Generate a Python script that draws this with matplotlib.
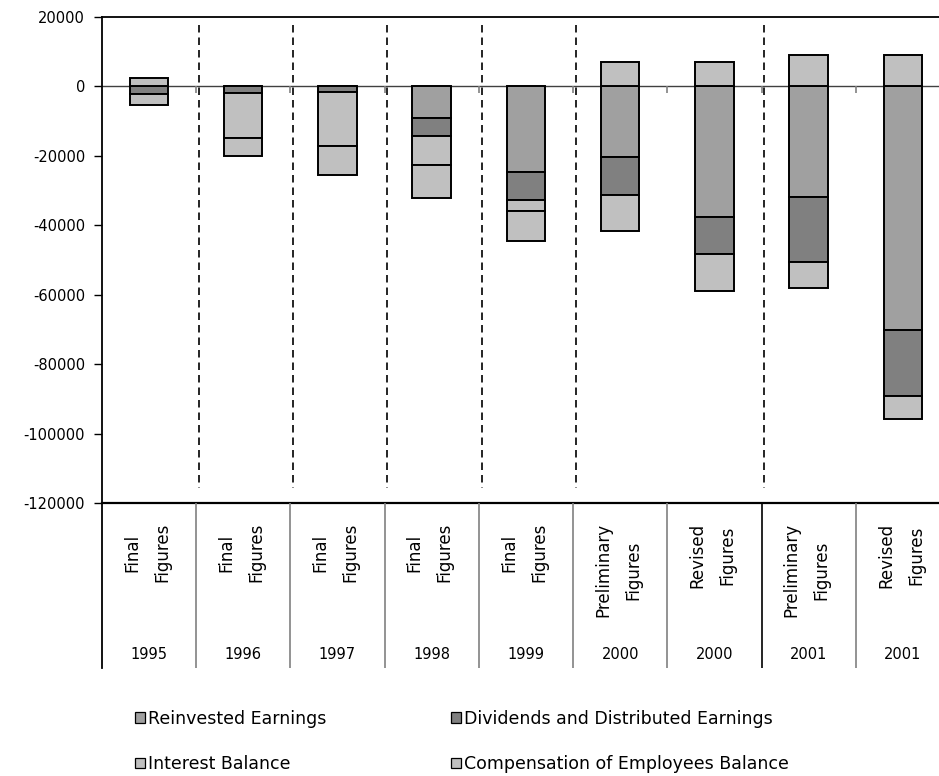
import matplotlib
matplotlib.use("Agg")
import matplotlib.pyplot as plt
import numpy as np

plt.rcParams['font.family'] = ['DejaVu Sans']

# ---- data ----
labels_top = ["Final\nFigures", "Final\nFigures", "Final\nFigures", "Final\nFigures",
              "Final\nFigures", "Preliminary\nFigures", "Revised\nFigures",
              "Preliminary\nFigures", "Revised\nFigures"]
years = ["1995", "1996", "1997", "1998", "1999", "2000", "2000", "2001", "2001"]

series_names = ["Reinvested Earnings", "Dividends and Distributed Earnings",
                "Interest Balance", "Compensation of Employees Balance"]
reinvested = [0, 0, 0, -9100, -24600, -20400, -37500, -31900, -70200]
dividends = [-2100, -1900, -1600, -5200, -8100, -11000, -10900, -18800, -18800]
interest = [-3300, -13000, -15700, -8400, -3300, -10200, -10600, -7400, -6700]
compensation = [2400, -5200, -8300, -9400, -8500, 7000, 7000, 9000, 9000]
colors = ["#A0A0A0", "#808080", "#C0C0C0", "#C0C0C0"]

yticks = list(range(-120000, 20001, 20000))
dashed_after = [0, 1, 2, 3, 4, 6]   # dashed separators after these categories
black_sep_after = [6]

W, H = 939, 776
fig = plt.figure(figsize=(W / 100, H / 100), dpi=100)

left_px, right_px = 101.8, 950.0
top_px, bot_px = 16.7, 503.3
lab_bot_px = 668.0

ax = fig.add_axes([left_px / W, 1 - bot_px / H, (right_px - left_px) / W, (bot_px - top_px) / H])
n = len(years)
x = np.arange(n)
ax.set_xlim(-0.5, n - 0.5)
ax.set_ylim(-120000, 20000)

ax.axhline(0, color="#404040", lw=1.0, zorder=1)
# category tick marks on the zero axis
ax.vlines(x[:-1] + 0.5, -2000, 0, colors="#808080", lw=1.2, zorder=1)

pos_bottom = np.zeros(n)
neg_bottom = np.zeros(n)
handles = []
for name, vals, col in zip(series_names, [reinvested, dividends, interest, compensation], colors):
    v = np.array(vals, dtype=float)
    bottom = np.where(v >= 0, pos_bottom, neg_bottom)
    bc = ax.bar(x, v, 0.41, bottom=bottom, color=col, edgecolor="black", linewidth=1.4,
                label=name, zorder=3)
    handles.append(bc)
    pos_bottom += np.where(v >= 0, v, 0)
    neg_bottom += np.where(v < 0, v, 0)

for i in dashed_after:
    ax.plot([i + 0.53, i + 0.53], [17500, -115500], color="black", lw=1.2,
            linestyle=(0, (4.5, 3)), zorder=2)

ax.set_yticks(yticks)
ax.set_yticklabels([str(t) for t in yticks])
ax.set_xticks([])
ax.tick_params(axis="y", direction="out", length=6, width=1, colors="black",
               labelsize=10.5, pad=6)
ax.spines["right"].set_visible(False)
ax.spines["left"].set_linewidth(1.3)
ax.spines["top"].set_linewidth(1.3)
ax.spines["bottom"].set_linewidth(1.6)

# ---- category label area ----
ax2 = fig.add_axes([left_px / W, 1 - lab_bot_px / H, (right_px - left_px) / W,
                    (lab_bot_px - bot_px) / H])
ax2.set_xlim(-0.5, n - 0.5)
ax2.set_ylim(0, 1)
for s in ["top", "right", "bottom"]:
    ax2.spines[s].set_visible(False)
ax2.spines["left"].set_linewidth(1.3)
ax2.set_xticks([])
ax2.set_yticks([])
ax2.patch.set_alpha(0)
for i in range(n - 1):
    ax2.axvline(i + 0.5, color="black" if i in black_sep_after else "#808080", lw=1.2)
for i in range(n):
    ax2.text(i - 0.02, 0.88, labels_top[i], rotation=90, va="top", ha="center",
             multialignment="center", fontsize=12, linespacing=1.85)
    ax2.text(i, 0.08, years[i], ha="center", va="center", fontsize=10.5)

# ---- legend ----
order = [0, 2, 1, 3]
leg = fig.legend([handles[k] for k in order], [series_names[k] for k in order],
                 ncol=2, loc="upper left", bbox_to_anchor=(135 / W, 1 - 709.5 / H),
                 frameon=False, fontsize=12.5, handlelength=0.55, handleheight=0.55,
                 handletextpad=0.2, labelspacing=1.6, columnspacing=7.2,
                 borderpad=0, borderaxespad=0)
for p in leg.get_patches():
    p.set_linewidth(0.9)

fig.savefig("out.png", dpi=100)
